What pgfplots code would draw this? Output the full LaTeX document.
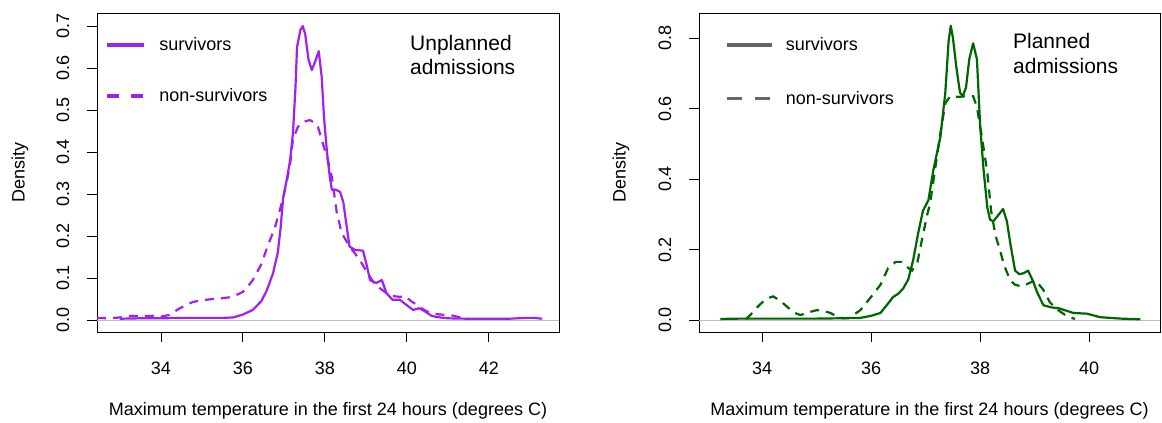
\documentclass[border=0pt]{standalone}
\usepackage{pgfplots}
\pgfplotsset{compat=1.18}
\usepackage{fontspec}
\setmainfont{Liberation Sans}
\definecolor{rpurple}{RGB}{160,32,240}
\definecolor{rgreen}{RGB}{0,100,0}
\definecolor{leggray}{RGB}{98,102,110}
\definecolor{zgray}{RGB}{190,190,190}

\pgfplotsset{
  common/.style={
    scale only axis,
    anchor=south west,
    height=319pt,
    axis line style={black, line width=0.9pt},
    tick style={black, line width=0.9pt},
    tick align=outside,
    major tick length=10pt,
    xtick pos=bottom, ytick pos=left,
    xtick={34,36,38,40,42},
    /pgf/number format/assume math mode=true,
    tick label style={font=\fontsize{18}{21}\selectfont},
    label style={font=\fontsize{18}{21}\selectfont},
    x tick label style={anchor=center, yshift=-26pt},
    y tick label style={anchor=center, xshift=-24pt, rotate=90,
      /pgf/number format/.cd, fixed, fixed zerofill, precision=1},
    xlabel={Maximum temperature in the first 24 hours (degrees C)},
    ylabel={Density},
    legend cell align=left,
    clip=true,
  },
  dens/.style={line width=2.2pt, line join=round},
  dashd/.style={line width=2.2pt, dash pattern=on 9pt off 7pt},
}

\begin{document}
\begin{tikzpicture}
\path[use as bounding box] (0,0) rectangle (1162pt,423pt);

% ---------------- Left: unplanned ----------------
\begin{axis}[common,
  at={(97pt,91pt)}, width=462pt,
  xmin=32.44, xmax=43.71, ymin=-0.0286, ymax=0.731,
  ytick={0,0.1,0.2,0.3,0.4,0.5,0.6,0.7},
  xlabel style={at={(axis description cs:0.5,-0.2476)}, anchor=center},
  ylabel style={at={(axis description cs:-0.1667,0.5)}, anchor=center},
  legend style={at={(axis description cs:0.01,0.935)}, anchor=north west,
    draw=none, fill=none, row sep=32pt,
    font=\fontsize{18}{21}\selectfont,
    /tikz/every odd column/.append style={column sep=12pt}},
  legend image code/.code={\draw[#1] (0pt,0pt) -- (37pt,0pt);},
]
\addlegendimage{rpurple, line width=3.5pt}
\addlegendentry{survivors}
\addlegendimage{rpurple, line width=3.5pt, dash pattern=on 12pt off 12pt}
\addlegendentry{non-survivors}
\addplot[zgray, line width=0.9pt, forget plot] coordinates {(32,0) (44,0)};
\addplot[rpurple, dens, forget plot] coordinates {
(33.0,0.003)(33.5,0.004)(34.0,0.004)(34.5,0.005)(35.0,0.005)(35.5,0.005)
(35.76,0.006)(36.0,0.013)(36.24,0.024)(36.45,0.045)(36.58,0.07)(36.73,0.11)
(36.85,0.16)(36.92,0.22)(36.98,0.29)(37.08,0.34)(37.15,0.38)(37.22,0.445)
(37.28,0.55)(37.32,0.65)(37.40,0.69)(37.46,0.70)(37.52,0.68)(37.6,0.62)
(37.68,0.595)(37.76,0.615)(37.85,0.64)(37.92,0.58)(37.98,0.48)(38.05,0.40)
(38.12,0.34)(38.17,0.31)(38.27,0.31)(38.37,0.305)(38.45,0.28)(38.52,0.23)
(38.6,0.175)(38.73,0.167)(38.93,0.165)(39.02,0.13)(39.1,0.095)(39.25,0.088)
(39.39,0.095)(39.5,0.064)(39.65,0.048)(39.83,0.048)(40.0,0.035)(40.15,0.024)
(40.3,0.028)(40.45,0.02)(40.6,0.01)(40.73,0.007)(41.0,0.004)(41.5,0.003)
(42.0,0.003)(42.5,0.003)(42.9,0.005)(43.1,0.005)(43.3,0.003)};
\addplot[rpurple, dashd, forget plot] coordinates {
(32.44,0.005)(32.7,0.004)(33.0,0.006)(33.3,0.01)(33.5,0.008)(33.8,0.01)
(34.0,0.008)(34.2,0.012)(34.46,0.028)(34.78,0.043)(35.0,0.047)(35.27,0.05)
(35.5,0.052)(35.68,0.054)(35.85,0.06)(36.0,0.067)(36.12,0.08)(36.24,0.095)
(36.35,0.115)(36.46,0.135)(36.58,0.17)(36.66,0.19)(36.78,0.22)(36.88,0.255)
(36.98,0.29)(37.08,0.335)(37.15,0.37)(37.22,0.43)(37.34,0.46)(37.48,0.472)
(37.63,0.476)(37.75,0.47)(37.83,0.46)(37.95,0.42)(38.05,0.39)(38.17,0.34)
(38.29,0.255)(38.41,0.207)(38.6,0.175)(38.72,0.16)(38.85,0.143)(39.05,0.11)
(39.2,0.088)(39.35,0.075)(39.5,0.064)(39.65,0.057)(39.83,0.055)(39.95,0.057)
(40.1,0.045)(40.24,0.036)(40.4,0.025)(40.56,0.017)(40.8,0.013)(41.05,0.012)
(41.3,0.006)(41.5,0.002)};
\node[anchor=base west, font=\fontsize{21}{25}\selectfont, inner sep=0pt]
  at (axis description cs:0.6775,0.884) {Unplanned};
\node[anchor=base west, font=\fontsize{21}{25}\selectfont, inner sep=0pt]
  at (axis description cs:0.6775,0.806) {admissions};
\end{axis}

% ---------------- Right: planned ----------------
\begin{axis}[common,
  at={(699pt,91pt)}, width=461pt,
  xmin=32.84, xmax=41.30, ymin=-0.034, ymax=0.871,
  xtick={34,36,38,40},
  ytick={0,0.2,0.4,0.6,0.8},
  xlabel style={at={(axis description cs:0.5,-0.2476)}, anchor=center},
  ylabel style={at={(axis description cs:-0.169,0.5)}, anchor=center},
  legend style={at={(axis description cs:0.05,0.935)}, anchor=north west,
    draw=none, fill=none, row sep=35pt,
    font=\fontsize{18}{21}\selectfont,
    /tikz/every odd column/.append style={column sep=10pt}},
  legend image code/.code={\draw[#1] (0pt,0pt) -- (45pt,0pt);},
]
\addlegendimage{leggray, line width=3.5pt}
\addlegendentry{survivors}
\addlegendimage{leggray, line width=3.5pt, dash pattern=on 15pt off 13pt}
\addlegendentry{non-survivors}
\addplot[zgray, line width=0.9pt, forget plot] coordinates {(32,0) (42,0)};
\addplot[rgreen, dens, forget plot] coordinates {
(33.23,0.003)(33.6,0.004)(34.0,0.004)(34.5,0.004)(35.0,0.004)(35.5,0.005)
(35.8,0.006)(36.0,0.012)(36.17,0.02)(36.3,0.045)(36.4,0.065)(36.5,0.075)
(36.59,0.09)(36.68,0.115)(36.77,0.17)(36.86,0.245)(36.95,0.31)(37.05,0.34)
(37.14,0.425)(37.27,0.52)(37.36,0.645)(37.42,0.79)(37.46,0.835)(37.5,0.80)
(37.56,0.72)(37.63,0.645)(37.68,0.635)(37.74,0.66)(37.80,0.74)(37.87,0.785)
(37.94,0.74)(38.0,0.55)(38.06,0.43)(38.13,0.32)(38.18,0.285)(38.24,0.28)
(38.32,0.295)(38.42,0.315)(38.49,0.28)(38.55,0.22)(38.64,0.14)(38.72,0.13)
(38.8,0.133)(38.88,0.14)(38.97,0.11)(39.05,0.077)(39.16,0.042)(39.3,0.036)
(39.45,0.033)(39.71,0.02)(39.96,0.018)(40.2,0.008)(40.57,0.004)(40.94,0.002)};
\addplot[rgreen, dashd, forget plot] coordinates {
(33.7,0.002)(33.78,0.014)(33.9,0.035)(34.0,0.05)(34.1,0.062)(34.2,0.067)
(34.33,0.055)(34.46,0.037)(34.6,0.02)(34.7,0.014)(34.85,0.022)(35.0,0.028)
(35.12,0.026)(35.25,0.02)(35.4,0.008)(35.49,0.005)(35.6,0.006)(35.8,0.028)
(35.98,0.062)(36.17,0.10)(36.31,0.147)(36.45,0.165)(36.55,0.165)(36.66,0.15)
(36.75,0.14)(36.85,0.165)(36.93,0.227)(37.03,0.30)(37.08,0.33)(37.17,0.425)
(37.27,0.53)(37.36,0.615)(37.45,0.635)(37.6,0.633)(37.75,0.635)(37.87,0.635)
(37.94,0.605)(38.04,0.51)(38.13,0.42)(38.2,0.31)(38.28,0.24)(38.36,0.2)
(38.44,0.155)(38.55,0.113)(38.64,0.10)(38.77,0.095)(38.9,0.105)(39.02,0.113)
(39.16,0.085)(39.28,0.05)(39.43,0.028)(39.6,0.01)(39.74,0.003)};
\node[anchor=base west, font=\fontsize{21}{25}\selectfont, inner sep=0pt]
  at (axis description cs:0.681,0.890) {Planned};
\node[anchor=base west, font=\fontsize{21}{25}\selectfont, inner sep=0pt]
  at (axis description cs:0.681,0.809) {admissions};
\end{axis}
\end{tikzpicture}
\end{document}
